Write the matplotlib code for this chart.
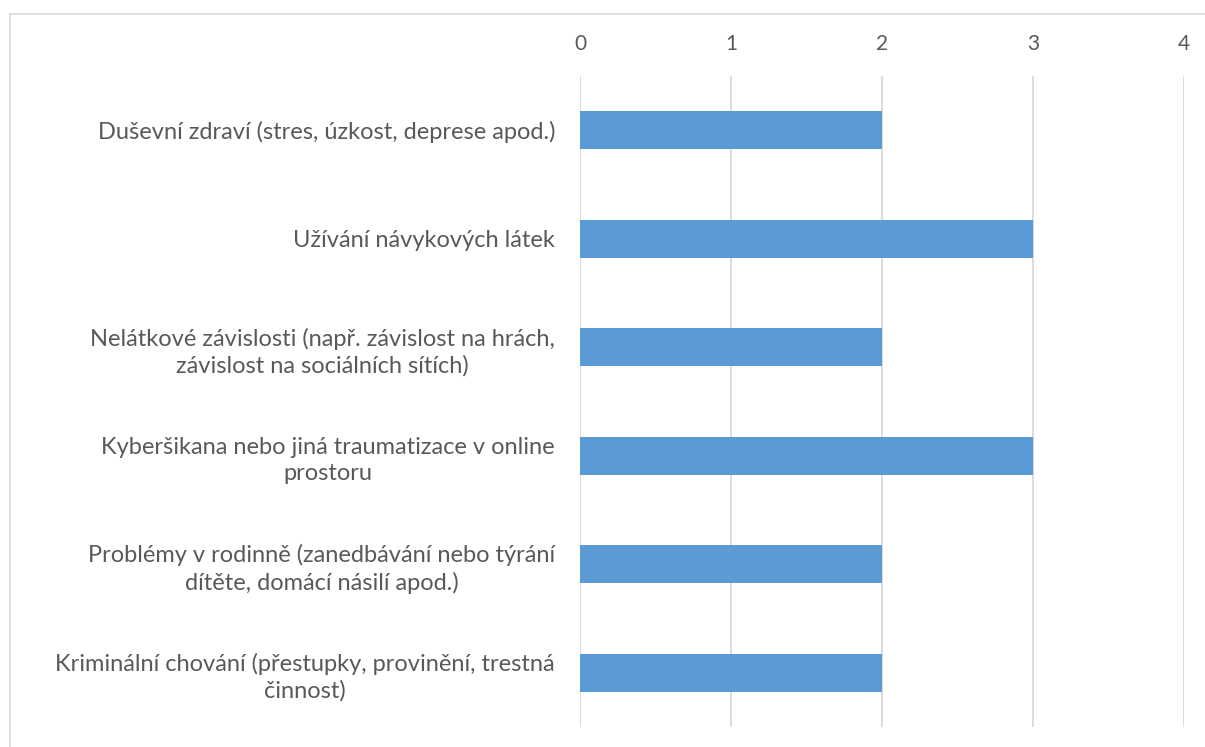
import matplotlib.pyplot as plt
from matplotlib.patches import Rectangle

# data
categories = [
    "Duševní zdraví (stres, úzkost, deprese apod.)",
    "Užívání návykových látek",
    "Nelátkové závislosti (např. závislost na hrách,\nzávislost na sociálních sítích)",
    "Kyberšikana nebo jiná traumatizace v online\nprostoru",
    "Problémy v rodinně (zanedbávání nebo týrání\ndítěte, domácí násilí apod.)",
    "Kriminální chování (přestupky, provinění, trestná\nčinnost)",
]
values = [2, 3, 2, 3, 2, 2]
xticks = [0, 1, 2, 3, 4]

plt.rcParams['font.family'] = ['Lato', 'DejaVu Sans']
text_col = '#595959'
grid_col = '#d9d9d9'

fig = plt.figure(figsize=(12.05, 7.47), dpi=100)
ax = fig.add_axes([580 / 1205, 1 - 727 / 747, 604 / 1205, 651 / 747])

# chart border like Excel
fig.patches.append(Rectangle((10 / 1205, -0.1), 1.2, 1 - 14 / 747 + 0.1,
                             transform=fig.transFigure, fill=False,
                             edgecolor=grid_col, linewidth=1.2))

pos = list(range(len(categories)))
ax.barh(pos, values, height=0.35, color='#5b9bd5', zorder=3)

ax.set_xlim(0, 4)
ax.set_ylim(len(categories) - 0.5, -0.5)
ax.set_xticks(xticks)
ax.xaxis.tick_top()
ax.tick_params(axis='x', length=0, pad=16, labelsize=15, labelcolor=text_col)
ax.grid(axis='x', color=grid_col, linewidth=1.3, zorder=0)

ax.set_yticks(pos)
ax.set_yticklabels(categories, multialignment='center', linespacing=1.3)
ax.tick_params(axis='y', length=0, pad=18, labelsize=17, labelcolor=text_col)

for s in ax.spines.values():
    s.set_visible(False)

fig.savefig('out.png', dpi=100)
